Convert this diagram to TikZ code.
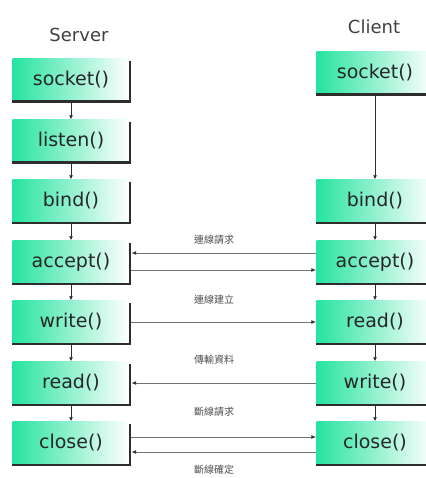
\documentclass[tikz,border=0pt]{standalone}
\usepackage{fontspec}
\setmainfont{DejaVu Sans}
\newfontfamily\cjk{Noto Sans CJK TC}
\usetikzlibrary{arrows.meta}

\definecolor{mint}{RGB}{38,228,160}
\definecolor{rimgray}{RGB}{45,45,45}
\definecolor{wire}{RGB}{115,115,115}

\begin{document}
\begin{tikzpicture}[x=1pt, y=-1pt,
	func/.style = {minimum width=117pt, minimum height=43pt, inner sep=0pt, left color=mint, middle color=mint!30, right color=white, font=\fontsize{19}{19}\selectfont, text=black!85},
	title/.style = {font=\fontsize{18}{18}\selectfont, text=black!75},
	msglabel/.style = {font=\cjk\fontsize{10}{11}\selectfont, text=black!70},
	rim/.style = {draw=rimgray, line width=2.4pt},
	flow/.style = {draw=rimgray, line width=0.8pt, -{Latex[length=4pt, width=4pt]}},
	msg/.style = {draw=wire, line width=1pt, -{Latex[length=5pt, width=4pt, color=black!80]}}
]
	\useasboundingbox (0,0) rectangle (425,478);

	\node[title] (server) at (79,35) {Server};
	\node[title] (client) at (374,27) {Client};

	% server side
	\node[func] (ssocket) at (71,80) {socket()};
	\node[func] (slisten) at (71,141) {listen()};
	\node[func] (sbind) at (71,201) {bind()};
	\node[func] (saccept) at (71,262) {accept()};
	\node[func] (swrite) at (71,322) {write()};
	\node[func] (sread) at (71,383) {read()};
	\node[func] (sclose) at (71,443) {close()};

	% client side
	\node[func] (csocket) at (375,73) {socket()};
	\node[func] (cbind) at (375,201) {bind()};
	\node[func] (caccept) at (375,262) {accept()};
	\node[func] (cread) at (375,322) {read()};
	\node[func] (cwrite) at (375,383) {write()};
	\node[func] (cclose) at (375,443) {close()};

	\foreach \n in {ssocket, slisten, sbind, saccept, swrite, sread, sclose, csocket, cbind, caccept, cread, cwrite, cclose}
		\draw[rim] ([yshift=-3pt]\n.north east) |- (\n.south west);

	\foreach \a/\b in {ssocket/slisten, slisten/sbind, sbind/saccept, saccept/swrite, swrite/sread, sread/sclose, csocket/cbind, cbind/caccept, caccept/cread, cread/cwrite, cwrite/cclose}
		\draw[flow] ([yshift=-1.2pt]\a.south) -- (\b.north);

	% messages
	\draw[msg] ([yshift=9pt]caccept.west) -- ([xshift=1.5pt, yshift=9pt]saccept.east);
	\draw[msg] ([xshift=1.5pt, yshift=-8pt]saccept.east) -- ([yshift=-8pt]caccept.west);
	\draw[msg] ([xshift=1.5pt]swrite.east) -- (cread.west);
	\draw[msg] (cwrite.west) -- ([xshift=1.5pt]sread.east);
	\draw[msg] ([xshift=1.5pt, yshift=6pt]sclose.east) -- ([yshift=6pt]cclose.west);
	\draw[msg] ([yshift=-9pt]cclose.west) -- ([xshift=1.5pt, yshift=-9pt]sclose.east);

	\node[msglabel] (req) at (214,240) {連線請求};
	\node[msglabel] (est) at (214,300) {連線建立};
	\node[msglabel] (xfer) at (214,360) {傳輸資料};
	\node[msglabel] (fin) at (214,412) {斷線請求};
	\node[msglabel] (ack) at (214,470) {斷線確定};
\end{tikzpicture}
\end{document}
